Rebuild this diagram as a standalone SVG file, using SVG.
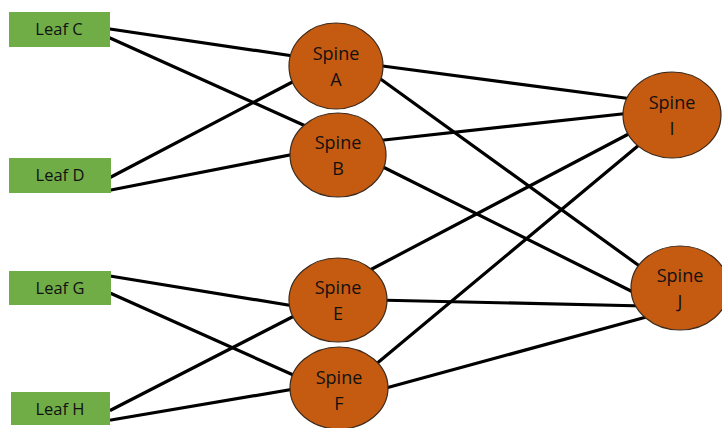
<svg xmlns="http://www.w3.org/2000/svg" width="722" height="428" viewBox="0 0 722 428">
<style>
.leaf{fill:#70AD47}
.spine{fill:#C55A11;stroke:#3b2a1c;stroke-width:1.2}
.lt{font-family:"Open Sans","Liberation Sans",sans-serif;font-size:16.5px;fill:#111;text-anchor:middle}
.st{font-family:"Open Sans","Liberation Sans",sans-serif;font-size:18px;fill:#111;text-anchor:middle}
#connectors line{stroke:#000;stroke-width:3.2;stroke-linecap:round}
</style>
<rect width="722" height="428" fill="#fff"/>
<g id="connectors">
<line x1="110" y1="29" x2="300" y2="57"/>
<line x1="110" y1="38" x2="310" y2="128"/>
<line x1="111" y1="177" x2="300" y2="78"/>
<line x1="111" y1="190" x2="300" y2="153"/>
<line x1="110" y1="276" x2="300" y2="307"/>
<line x1="110" y1="293" x2="300" y2="378"/>
<line x1="111" y1="410" x2="300" y2="313"/>
<line x1="111" y1="420" x2="300" y2="388"/>
<line x1="375" y1="65" x2="640" y2="100"/>
<line x1="375" y1="75" x2="645" y2="270"/>
<line x1="375" y1="141" x2="640" y2="112"/>
<line x1="375" y1="163" x2="645" y2="298"/>
<line x1="370" y1="270" x2="640" y2="128"/>
<line x1="375" y1="300" x2="645" y2="306"/>
<line x1="375" y1="365" x2="645" y2="140"/>
<line x1="375" y1="391" x2="650" y2="316"/>
</g>
<g id="leafC"><rect class="leaf" x="9" y="12" width="101" height="35"/><text class="lt" x="59" y="35">Leaf C</text></g>
<g id="leafD"><rect class="leaf" x="9" y="158" width="102" height="35"/><text class="lt" x="60" y="181">Leaf D</text></g>
<g id="leafG"><rect class="leaf" x="9" y="271" width="102" height="34"/><text class="lt" x="60" y="294">Leaf G</text></g>
<g id="leafH"><rect class="leaf" x="11" y="392" width="99" height="33"/><text class="lt" x="60" y="415">Leaf H</text></g>
<g id="spineA"><ellipse class="spine" cx="336" cy="66" rx="47" ry="43"/><text class="st" x="336" y="60">Spine</text><text class="st" x="336" y="86">A</text></g>
<g id="spineB"><ellipse class="spine" cx="338" cy="155" rx="48" ry="42"/><text class="st" x="338" y="149">Spine</text><text class="st" x="338" y="175">B</text></g>
<g id="spineE"><ellipse class="spine" cx="338" cy="300" rx="49" ry="42"/><text class="st" x="338" y="294">Spine</text><text class="st" x="338" y="320">E</text></g>
<g id="spineF"><ellipse class="spine" cx="339" cy="388" rx="49" ry="41"/><text class="st" x="339" y="384">Spine</text><text class="st" x="339" y="410">F</text></g>
<g id="spineI"><ellipse class="spine" cx="672" cy="115" rx="49" ry="43"/><text class="st" x="672" y="109">Spine</text><text class="st" x="672" y="135">I</text></g>
<g id="spineJ"><ellipse class="spine" cx="680" cy="288" rx="49" ry="42"/><text class="st" x="680" y="282">Spine</text><text class="st" x="680" y="308">J</text></g>
</svg>
